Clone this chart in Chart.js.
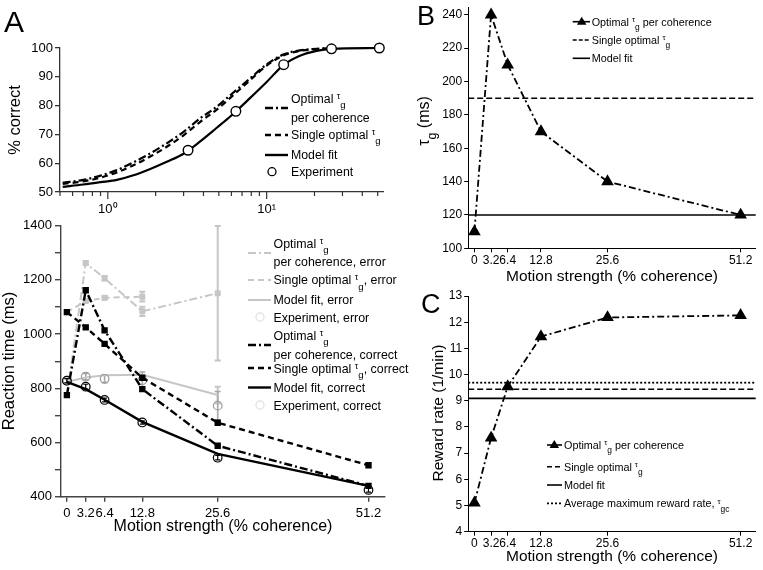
<!DOCTYPE html>
<html>
<head>
<meta charset="utf-8">
<script src="https://cdn.jsdelivr.net/npm/chart.js@4.4.1/dist/chart.umd.min.js"></script>
<style>
  body { margin: 0; background: #fff; }
  #fig { position: relative; width: 763px; height: 570px; overflow: hidden; }
  canvas { position: absolute; }
</style>
</head>
<body>
<div id="fig">
  <canvas id="rt" style="left:0;top:200px" width="412" height="370"></canvas>
  <canvas id="pc" style="left:0;top:0" width="390" height="220"></canvas>
  <canvas id="tau" style="left:390px;top:0" width="373" height="290"></canvas>
  <canvas id="reward" style="left:390px;top:285px" width="373" height="285"></canvas>
</div>
<script>
// coherence levels shared by the RT, tau and reward panels
const coherence = [0, 3.2, 6.4, 12.8, 25.6, 51.2];
const coherenceLabels = ['0', '3.2', '6.4', '12.8', '25.6', '51.2'];

// A (top): psychometric curves, % correct vs coherence (log axis)
const pcX = [0.52, 0.7, 0.9, 1.14, 1.45, 1.85, 2.35, 3.0, 3.8, 4.85, 5.9, 7.85, 10, 12.7, 16.2, 20.6, 25.6, 51.2];
const pcOptimalPerCoh = [53.2, 54.2, 55.7, 57.6, 60.3, 63.4, 66.9, 70.9, 75.5, 79.6, 83.6, 89.4, 94.3, 97.7, 99.2, 99.7, 100, null];
const pcSingleOptimal = [52.8, 53.7, 55.0, 56.8, 59.3, 62.3, 65.7, 69.7, 74.3, 78.6, 82.7, 88.8, 93.9, 97.4, 99.0, 99.6, 100, null];
const pcModelFit = [51.8, 52.6, 53.4, 54.2, 55.8, 58.0, 60.5, 63.3, 67.5, 72.3, 76.2, 82.6, 88.2, 94.0, 97.3, 99.0, 99.7, 100];
const pcExpX = [3.2, 6.4, 12.8, 25.6, 51.2];
const pcExp = [64.5, 78, 94.2, 99.7, 100];
const pcTickValues = [0.5, 0.6, 0.7, 0.8, 0.9, 1, 2, 3, 4, 5, 6, 7, 8, 9, 10, 20, 30, 40, 50];

// A (bottom): reaction times (ms), correct and error trials
const rtOptCorrect = [775, 1162, 1014, 797, 588, 440];
const rtSingleCorrect = [1081, 1025, 964, 839, 673, 516];
const rtFitCorrect = [824, 797, 758, 676, 558, 440];
const rtExpCorrect = [828, 806, 757, 674, 544, 425];
const rtExpCorrectErr = [8, 9, 7, 6, 8, 8];
const rtOptError = [775, 1262, 1206, 1084, 1151, null];
const rtOptErrorErr = [0, 6, 8, 17, 248, null];
const rtSingleError = [1081, 1122, 1134, 1138, null, null];
const rtSingleErrorErr = [0, 5, 6, 18, null, null];
const rtFitError = [824, 840, 848, 850, 775, null];
const rtFitErrorErr = [0, 0, 0, 0, 31, null];
const rtExpError = [828, 843, 835, 830, 736, null];
const rtExpErrorErr = [8, 12, 14, 30, 52, null];

// B: gating time constant (ms)
const tauPerCoh = [110, 240, 210, 170, 140, 120];
const tauSingle = 190;
const tauFit = 120;

// C: reward rate (1/min)
const rewardPerCoh = [5.1, 7.58, 9.54, 11.45, 12.18, 12.26];
const rewardSingle = 9.44;
const rewardFit = 9.09;
const rewardAvgMax = 9.69;

const FONT = "'Liberation Sans', Arial, Helvetica, sans-serif";
const GRAY = '#c6c6c6';
const DASHDOT = [8, 3, 2, 3];
const DASH = [6, 4];
const DOT = [2, 2];

Chart.defaults.font.family = FONT;
Chart.defaults.color = '#000';
Chart.defaults.animation = false;
Chart.defaults.plugins.legend.display = false;
Chart.defaults.plugins.tooltip.enabled = false;

const pts = (xs, ys) => xs.map((x, i) => ({ x, y: ys[i] })).filter(p => p.y !== null && p.y !== undefined);

function lineSet(data, color, dash, width, extra) {
  return Object.assign({
    data, borderColor: color, backgroundColor: color, borderDash: dash,
    borderWidth: width, pointRadius: 0, tension: 0, clip: false, fill: false
  }, extra || {});
}

// pin the axis boxes so the plot areas land where the figure has them
function fixedBox(size) {
  return scale => {
    if (scale.isHorizontal()) scale.height = size; else scale.width = size;
    scale.paddingTop = scale.paddingBottom = scale.paddingLeft = scale.paddingRight = 0;
  };
}

function coherenceAxis(min, max, fontSize, tickLength, padding, height, axisColor, axisWidth) {
  return {
    type: 'linear', min, max,
    afterBuildTicks: s => { s.ticks = coherence.map(v => ({ value: v })); },
    ticks: { autoSkip: false, maxRotation: 0, padding, font: { size: fontSize },
      callback: (v, i) => coherenceLabels[i] },
    grid: { drawOnChartArea: false, tickLength, color: axisColor, lineWidth: axisWidth },
    border: { color: axisColor, width: axisWidth },
    afterFit: fixedBox(height)
  };
}

// text with a small raised tau and a subscript, e.g. tau_g
function richParts(ctx, parts, size, fn) {
  let x = 0;
  for (const p of parts) {
    const [t, kind] = Array.isArray(p) ? p : [p, ''];
    let f = size, dy = 0;
    if (kind === 'tau') { f = size * 0.72; dy = -size * 0.32; }
    if (kind === 'sub') { f = size * 0.78; dy = size * 0.42; }
    ctx.font = `${f}px ${FONT}`;
    if (fn) fn(t, x, dy);
    x += ctx.measureText(t).width;
  }
  return x;
}

function drawRich(ctx, x, y, parts, size, color) {
  ctx.save();
  ctx.fillStyle = color || '#000';
  ctx.textAlign = 'left';
  ctx.textBaseline = 'alphabetic';
  richParts(ctx, parts, size, (t, dx, dy) => ctx.fillText(t, x + dx, y + dy));
  ctx.restore();
}

function drawText(ctx, str, x, y, size, opts) {
  opts = opts || {};
  ctx.save();
  ctx.fillStyle = '#000';
  ctx.font = `${size}px ${FONT}`;
  ctx.textAlign = opts.align || 'center';
  ctx.textBaseline = opts.baseline || 'middle';
  ctx.translate(x, y);
  if (opts.rotate) ctx.rotate(-Math.PI / 2);
  ctx.fillText(str, 0, 0);
  ctx.restore();
}

function sampleLine(ctx, x1, x2, y, color, dash, width) {
  ctx.save();
  ctx.strokeStyle = color;
  ctx.lineWidth = width;
  ctx.setLineDash(dash);
  ctx.beginPath();
  ctx.moveTo(x1, y);
  ctx.lineTo(x2, y);
  ctx.stroke();
  ctx.restore();
}

function sampleCircle(ctx, x, y, r, stroke, fill) {
  ctx.save();
  ctx.strokeStyle = stroke;
  ctx.fillStyle = fill;
  ctx.lineWidth = 1.3;
  ctx.beginPath();
  ctx.arc(x, y, r, 0, Math.PI * 2);
  ctx.fill();
  ctx.stroke();
  ctx.restore();
}

function sampleTriangle(ctx, x, y, r) {
  ctx.save();
  ctx.fillStyle = '#000';
  ctx.beginPath();
  ctx.moveTo(x, y - r);
  ctx.lineTo(x + r * 0.95, y + r * 0.6);
  ctx.lineTo(x - r * 0.95, y + r * 0.6);
  ctx.closePath();
  ctx.fill();
  ctx.restore();
}

function errorBars(chart, xs, ys, errs, color, width, cap) {
  const { ctx, scales: { x, y } } = chart;
  ctx.save();
  ctx.strokeStyle = color;
  ctx.lineWidth = width;
  ys.forEach((v, i) => {
    if (v === null || !errs[i]) return;
    const px = x.getPixelForValue(xs[i]);
    const top = y.getPixelForValue(v + errs[i]);
    const bot = y.getPixelForValue(v - errs[i]);
    ctx.beginPath();
    ctx.moveTo(px, top); ctx.lineTo(px, bot);
    ctx.moveTo(px - cap, top); ctx.lineTo(px + cap, top);
    ctx.moveTo(px - cap, bot); ctx.lineTo(px + cap, bot);
    ctx.stroke();
  });
  ctx.restore();
}

const tauG = [['τ', 'tau'], ['g', 'sub']];

// ---------- A top: % correct ----------
new Chart(document.getElementById('pc'), {
  type: 'line',
  data: {
    datasets: [
      lineSet(pts(pcExpX, pcExp), '#000', [], 1.4, { showLine: false, pointRadius: 4.8, backgroundColor: '#fff' }),
      lineSet(pts(pcX, pcOptimalPerCoh), '#000', DASHDOT, 2.2, { cubicInterpolationMode: 'monotone' }),
      lineSet(pts(pcX, pcSingleOptimal), '#000', DASH, 2.2, { cubicInterpolationMode: 'monotone' }),
      lineSet(pts(pcX, pcModelFit), '#000', [], 2.2, { cubicInterpolationMode: 'monotone' })
    ]
  },
  options: {
    responsive: false,
    layout: { padding: { left: 0, top: 48, right: 7, bottom: 0 } },
    scales: {
      x: {
        type: 'logarithmic', min: 0.5, max: 54,
        afterBuildTicks: s => { s.ticks = pcTickValues.map(v => ({ value: v })); },
        ticks: { autoSkip: false, maxRotation: 0, padding: 10, font: { size: 13 },
          callback: v => (v === 1 ? '10⁰' : v === 10 ? '10¹' : '') },
        grid: { drawOnChartArea: false, drawTicks: false },
        border: { color: '#333', width: 1.3 },
        afterFit: fixedBox(28)
      },
      y: {
        min: 50, max: 100,
        ticks: { stepSize: 10, padding: 2, font: { size: 13 } },
        grid: { drawOnChartArea: false, tickLength: 5, color: '#333', lineWidth: 1.3 },
        border: { color: '#333', width: 1.3 },
        afterFit: fixedBox(60)
      }
    }
  },
  plugins: [{
    id: 'decorPc',
    afterDraw(chart) {
      const { ctx, scales: { x } } = chart;
      // log-axis tick marks, longer at decades
      ctx.save();
      ctx.strokeStyle = '#333';
      ctx.lineWidth = 1.2;
      x.ticks.forEach(t => {
        const px = x.getPixelForValue(t.value);
        const len = (t.value === 1 || t.value === 10) ? 7 : 4;
        ctx.beginPath();
        ctx.moveTo(px, x.top);
        ctx.lineTo(px, x.top + len);
        ctx.stroke();
      });
      ctx.restore();

      drawText(ctx, 'A', 4, 32, 30, { align: 'left', baseline: 'alphabetic' });
      drawText(ctx, '% correct', 15, 120, 16.5, { rotate: true });

      sampleLine(ctx, 265, 288, 108, '#000', DASHDOT, 2.4);
      drawRich(ctx, 291, 102.5, ['Optimal ', ...tauG], 12.3);
      drawRich(ctx, 291, 121.5, ['per coherence'], 12.3);
      sampleLine(ctx, 265, 288, 135, '#000', DASH, 2.4);
      drawRich(ctx, 291, 139.3, ['Single optimal ', ...tauG], 12.3);
      sampleLine(ctx, 265, 288, 155, '#000', [], 2.4);
      drawRich(ctx, 291, 159.3, ['Model fit'], 12.3);
      sampleCircle(ctx, 272, 171.7, 4, '#000', '#fff');
      drawRich(ctx, 291, 176, ['Experiment'], 12.3);
    }
  }]
});

// ---------- A bottom: reaction time ----------
const sq = { pointStyle: 'rect', pointRadius: 2.8 };
new Chart(document.getElementById('rt'), {
  type: 'line',
  data: {
    datasets: [
      lineSet(pts(coherence, rtExpCorrect), '#000', [], 1.2, { showLine: false, pointRadius: 4.3, backgroundColor: 'rgba(0,0,0,0)' }),
      lineSet(pts(coherence, rtFitCorrect), '#000', [], 2.4),
      lineSet(pts(coherence, rtOptCorrect), '#000', DASHDOT, 2.4, sq),
      lineSet(pts(coherence, rtSingleCorrect), '#000', DASH, 2.4, sq),
      lineSet(pts(coherence, rtExpError), '#9a9a9a', [], 1.2, { showLine: false, pointRadius: 4.3, backgroundColor: 'rgba(0,0,0,0)' }),
      lineSet(pts(coherence, rtFitError), GRAY, [], 2),
      lineSet(pts(coherence, rtOptError), GRAY, DASHDOT, 2, sq),
      lineSet(pts(coherence, rtSingleError), GRAY, DASH, 2, sq)
    ]
  },
  options: {
    responsive: false,
    layout: { padding: { left: 0, top: 25.7, right: 27, bottom: 0 } },
    scales: {
      x: coherenceAxis(-1, 54, 13, 5, 4, 73.3, '#444', 1.4),
      y: {
        min: 400, max: 1400,
        ticks: { stepSize: 100, padding: 3, font: { size: 13 },
          callback: v => (v % 200 === 0 ? v : '') },
        grid: { drawOnChartArea: false, tickLength: 6, color: '#444', lineWidth: 1.4 },
        border: { color: '#444', width: 1.4 },
        afterFit: fixedBox(61)
      }
    }
  },
  plugins: [{
    id: 'decorRt',
    beforeDatasetsDraw(chart) {
      errorBars(chart, coherence, rtOptError, rtOptErrorErr, GRAY, 2, 3);
      errorBars(chart, coherence, rtSingleError, rtSingleErrorErr, GRAY, 2, 3);
      errorBars(chart, coherence, rtFitError, rtFitErrorErr, GRAY, 2, 3);
      errorBars(chart, coherence, rtExpError, rtExpErrorErr, '#a8a8a8', 1.6, 3);
    },
    afterDatasetsDraw(chart) {
      errorBars(chart, coherence, rtExpCorrect, rtExpCorrectErr, '#000', 1.2, 2.5);
    },
    afterDraw(chart) {
      const ctx = chart.ctx;
      ctx.save();
      ctx.translate(0, -200);
      drawText(ctx, 'Reaction time (ms)', 9, 361, 16.5, { rotate: true });
      drawText(ctx, 'Motion strength (% coherence)', 223, 527, 16);

      const s = 12.4, x1 = 248, x2 = 271, tx = 273.5;
      sampleLine(ctx, x1, x2, 253, GRAY, DASHDOT, 2);
      drawRich(ctx, tx, 247.5, ['Optimal ', ...tauG], s);
      drawRich(ctx, tx, 266, ['per coherence, error'], s);
      sampleLine(ctx, x1, x2, 280, GRAY, DASH, 2);
      drawRich(ctx, tx, 284.3, ['Single optimal ', ...tauG, ', error'], s);
      sampleLine(ctx, x1, x2, 300, GRAY, [], 2);
      drawRich(ctx, tx, 304.3, ['Model fit, error'], s);
      sampleCircle(ctx, 260, 317, 4, '#e2e2e2', 'rgba(0,0,0,0)');
      drawRich(ctx, tx, 321.5, ['Experiment, error'], s);
      sampleLine(ctx, x1, x2, 345, '#000', DASHDOT, 2.4);
      drawRich(ctx, tx, 339.5, ['Optimal ', ...tauG], s);
      drawRich(ctx, tx, 359, ['per coherence, correct'], s);
      sampleLine(ctx, x1, x2, 368, '#000', DASH, 2.4);
      drawRich(ctx, tx, 372.5, ['Single optimal ', ...tauG, ', correct'], s);
      sampleLine(ctx, x1, x2, 387.5, '#000', [], 2.4);
      drawRich(ctx, tx, 391.8, ['Model fit, correct'], s);
      sampleCircle(ctx, 260, 405, 4, '#e2e2e2', 'rgba(0,0,0,0)');
      drawRich(ctx, tx, 409.5, ['Experiment, correct'], s);
      ctx.restore();
    }
  }]
});

// ---------- B: tau_g ----------
const bcMin = -1.2, bcMax = 54.1;
const tri = { pointStyle: 'triangle', pointRadius: 5.5 };
new Chart(document.getElementById('tau'), {
  type: 'line',
  data: {
    datasets: [
      lineSet(pts(coherence, tauPerCoh), '#000', [7, 3, 2, 3], 1.8, tri),
      lineSet(pts([bcMin, bcMax], [tauSingle, tauSingle]), '#000', [6, 3], 1.6),
      lineSet(pts([bcMin, bcMax], [tauFit, tauFit]), '#000', [], 1.6)
    ]
  },
  options: {
    responsive: false,
    layout: { padding: { left: 0, top: 3.3, right: 6.3, bottom: 0 } },
    scales: {
      x: coherenceAxis(bcMin, bcMax, 12, 4, 1, 41.7, '#000', 1),
      y: {
        min: 100, max: 244.5,
        afterBuildTicks: s => { s.ticks = [100, 120, 140, 160, 180, 200, 220, 240].map(v => ({ value: v })); },
        ticks: { padding: 2, font: { size: 12 } },
        grid: { drawOnChartArea: false, tickLength: 4, color: '#000', lineWidth: 1 },
        border: { color: '#000', width: 1 },
        afterFit: fixedBox(78.2)
      }
    }
  },
  plugins: [{
    id: 'decorTau',
    afterDraw(chart) {
      const ctx = chart.ctx;
      ctx.save();
      ctx.translate(-390, 0);
      drawText(ctx, 'B', 417, 25, 27, { align: 'left', baseline: 'alphabetic' });
      drawText(ctx, 'Motion strength (% coherence)', 612, 277, 15.5);
      // rotated y title: tau_g (ms)
      ctx.save();
      ctx.translate(429, 121);
      ctx.rotate(-Math.PI / 2);
      const yParts = ['τ', ['g', 'sub'], ' (ms)'];
      const w = richParts(ctx, yParts, 16);
      drawRich(ctx, -w / 2, 0, yParts, 16);
      ctx.restore();

      const s = 10.8;
      sampleLine(ctx, 572.7, 590, 21.7, '#000', [], 1.6);
      sampleTriangle(ctx, 581.7, 21.7, 5);
      drawRich(ctx, 591.7, 25.5, ['Optimal ', ...tauG, ' per coherence'], s);
      sampleLine(ctx, 572.7, 590, 40, '#000', [4, 2], 1.6);
      drawRich(ctx, 591.7, 43.8, ['Single optimal ', ...tauG], s);
      sampleLine(ctx, 572.7, 590, 58.3, '#000', [], 1.6);
      drawRich(ctx, 591.7, 62.1, ['Model fit'], s);
      ctx.restore();
    }
  }]
});

// ---------- C: reward rate ----------
new Chart(document.getElementById('reward'), {
  type: 'line',
  data: {
    datasets: [
      lineSet(pts(coherence, rewardPerCoh), '#000', [7, 3, 2, 3], 1.8, tri),
      lineSet(pts([bcMin, bcMax], [rewardAvgMax, rewardAvgMax]), '#000', DOT, 1.8),
      lineSet(pts([bcMin, bcMax], [rewardSingle, rewardSingle]), '#000', [6, 3], 1.6),
      lineSet(pts([bcMin, bcMax], [rewardFit, rewardFit]), '#000', [], 1.6)
    ]
  },
  options: {
    responsive: false,
    layout: { padding: { left: 0, top: 11, right: 6.3, bottom: 0 } },
    scales: {
      x: coherenceAxis(bcMin, bcMax, 12, 4, 1, 38.3, '#000', 1),
      y: {
        min: 4, max: 13,
        afterBuildTicks: s => { s.ticks = [4, 5, 6, 7, 8, 9, 10, 11, 12, 13].map(v => ({ value: v })); },
        ticks: { padding: 2, font: { size: 12 } },
        grid: { drawOnChartArea: false, tickLength: 4, color: '#000', lineWidth: 1 },
        border: { color: '#000', width: 1 },
        afterFit: fixedBox(78.2)
      }
    }
  },
  plugins: [{
    id: 'decorReward',
    afterDraw(chart) {
      const ctx = chart.ctx;
      ctx.save();
      ctx.translate(-390, -285);
      drawText(ctx, 'C', 421, 313, 27, { align: 'left', baseline: 'alphabetic' });
      drawText(ctx, 'Motion strength (% coherence)', 612, 557, 15.5);
      drawText(ctx, 'Reward rate (1/min)', 439, 413, 15.5, { rotate: true });

      const s = 10.8, x1 = 547, x2 = 562, tx = 564;
      sampleLine(ctx, x1, x2, 445, '#000', [], 1.6);
      sampleTriangle(ctx, 554.3, 445, 5);
      drawRich(ctx, tx, 448.8, ['Optimal ', ...tauG, ' per coherence'], s);
      sampleLine(ctx, x1, x2, 466.7, '#000', [5, 3], 1.6);
      drawRich(ctx, tx, 470.5, ['Single optimal ', ...tauG], s);
      sampleLine(ctx, x1, x2, 485, '#000', [], 1.6);
      drawRich(ctx, tx, 488.8, ['Model fit'], s);
      sampleLine(ctx, x1, x2, 503.3, '#000', DOT, 1.8);
      drawRich(ctx, tx, 507.1, ['Average maximum reward rate, ', ['τ', 'tau'], ['gc', 'sub']], s);
      ctx.restore();
    }
  }]
});
</script>
</body>
</html>
